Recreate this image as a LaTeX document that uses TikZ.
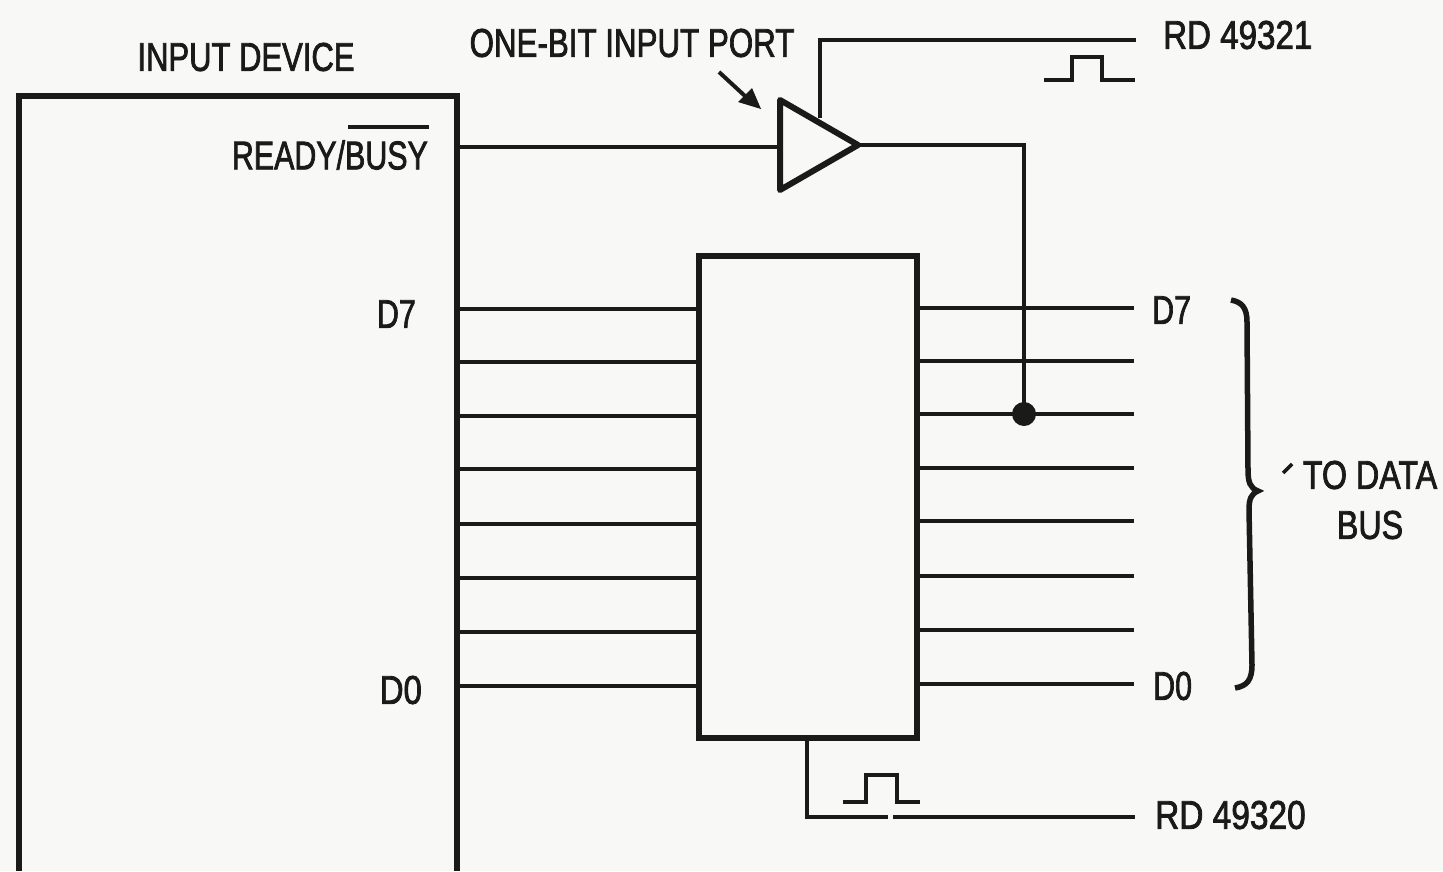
\documentclass[tikz,border=0pt]{standalone}
\usepackage{fontspec}
\newfontfamily\lblfont{Liberation Sans}[FakeBold=2.2]
\definecolor{ink}{HTML}{1A1A1A}
\definecolor{paper}{HTML}{F8F8F6}
\tikzset{
  wire/.style={draw=ink,line width=4pt},
  box/.style={draw=ink,line width=6pt,line join=miter},
  lbl/.style={text=ink,font=\lblfont\fontsize{40}{50}\selectfont,inner sep=0pt,
    xscale=0.76,align=center},
}
\begin{document}
\begin{tikzpicture}[x=1pt,y=-1pt]
\useasboundingbox (0,0) rectangle (1443,871);
\fill[paper] (0,0) rectangle (1443,871);
% device box (runs off the bottom edge)
\coordinate (devBL) at (19,871);
\coordinate (devTL) at (19,96);
\coordinate (devTR) at (457,96);
\coordinate (devBR) at (457,871);
\draw[box] (devBL) -- (devTL) -- (devTR) -- (devBR);
% latch box
\node[box,minimum width=218pt,minimum height=482pt,inner sep=0pt,outer sep=0pt,anchor=north west] (latch) at (699,256) {};
% buffer triangle
\coordinate (t1) at (780,100);
\coordinate (t2) at (780,190);
\coordinate (t3) at (858,145);
\draw[wire,line width=6pt,line join=round] (t1) -- (t3) -- (t2) -- cycle;
% labels
\node[lbl,xscale=1.02] (ldev) at (246,57) {INPUT DEVICE};
\node[lbl,xscale=1.03] (lport) at (632,43) {ONE-BIT INPUT PORT};
\node[lbl,anchor=east] (lready) at (428,155) {READY/BUSY};
\draw[ink,line width=3.5pt] (348,127) -- (429,127);
\node[lbl,anchor=east] (ld7) at (416,314) {D7};
\node[lbl,anchor=east,xscale=1.08] (ld0) at (422,690) {D0};
\node[lbl,anchor=west] (rd7) at (1152,310) {D7};
\node[lbl,anchor=west] (rd0) at (1153,686) {D0};
\node[lbl,anchor=west,xscale=1.09] (rd1) at (1163,35) {RD 49321};
\node[lbl,anchor=west,xscale=1.1] (rd2) at (1155,815) {RD 49320};
\node[lbl,xscale=1.06] (tdb) at (1370,500) {TO DATA\\BUS};
% stray tick before the label
\draw[ink,line width=3.5pt] (1283,473) -- (1292,464);
% pointer arrow
\coordinate (pa) at (719,72);
\coordinate (pb) at (761,109);
\draw[wire] (pa) -- (745,96);
\fill[ink] (pb) -- (738,102) -- (752,88) -- cycle;
% READY/BUSY wire
\coordinate (rw) at (457,147);
\draw[wire] (rw) -- (780,147);
% top enable
\coordinate (en1) at (1136,40);
\draw[wire,line join=miter] (820,118) -- (820,40) -- (en1);
% output to bus
\coordinate (dot) at (1024,414);
\draw[wire,line join=miter] (t3) -- (1024,145) -- (dot);
\fill[ink] (dot) circle (12pt);
% bus lines
\foreach \yl/\yr in {309/308,362/361,416/414,469/468,524/521,578/576,632/630,686/684}{
  \coordinate (a) at (457,\yl);
  \coordinate (b) at (698,\yl);
  \coordinate (c) at (917,\yr);
  \coordinate (d) at (1134,\yr);
  \draw[wire] (a) -- (b);
  \draw[wire] (c) -- (d);
}
% bottom enable
\coordinate (en2) at (1135,817);
\draw[wire,line join=miter] (807,739) -- (807,817) -- (888,817);
\draw[wire] (893,817) -- (en2);
% pulses
\draw[wire,line join=miter] (1044,80) -- (1072,80) -- (1072,57) -- (1102,57) -- (1102,80) -- (1135,80);
\draw[wire,line join=miter] (843,802) -- (866,802) -- (866,775) -- (897,775) -- (897,802) -- (920,802);
% brace
\draw[wire,line width=5.5pt] (1231,300) .. controls (1242,302) and (1247,308) .. (1247,322)
  -- (1248,470) .. controls (1248,482) and (1250,488) .. (1258,491)
  .. controls (1251,494) and (1249,499) .. (1249,510)
  -- (1252,665) .. controls (1252,680) and (1247,686) .. (1235,688);
\end{tikzpicture}
\end{document}
